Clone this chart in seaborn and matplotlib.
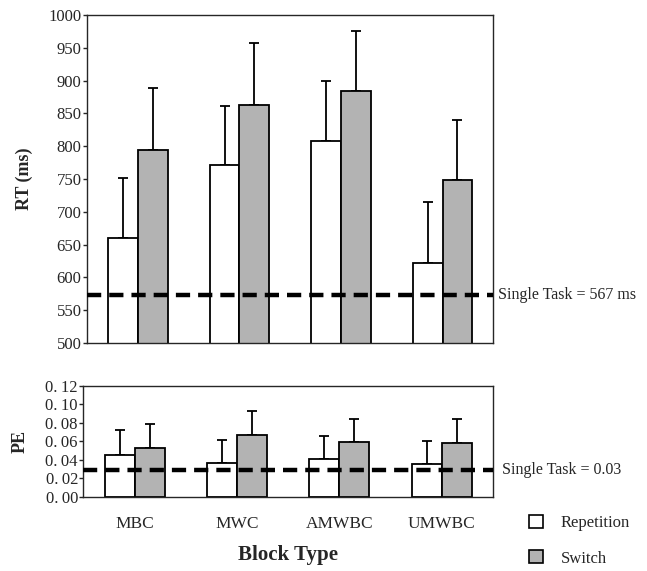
import numpy as np
import pandas as pd
import matplotlib
matplotlib.use("Agg")
import matplotlib.pyplot as plt
import seaborn as sns

blocks = ["MBC", "MWC", "AMWBC", "UMWBC"]
conditions = ["Repetition", "Switch"]

rt_rep = [660, 771, 808, 622]
rt_sw = [794, 863, 884, 748]
rt_rep_err = [92, 91, 92, 93]
rt_sw_err = [94, 94, 91, 92]
rt_single = 573

pe_rep = [0.045, 0.0365, 0.041, 0.035]
pe_sw = [0.053, 0.0666, 0.0597, 0.0582]
pe_rep_err = [0.027, 0.025, 0.025, 0.025]
pe_sw_err = [0.0255, 0.0264, 0.025, 0.0264]
pe_single = 0.029

rt_ticks = list(range(500, 1001, 50))
pe_ticks = [0.00, 0.02, 0.04, 0.06, 0.08, 0.10, 0.12]

sns.set_style("ticks")
plt.rcParams["font.family"] = ["Liberation Serif", "DejaVu Serif"]

palette = {"Repetition": "white", "Switch": "#b3b3b3"}


def make_df(rep, sw):
    return pd.DataFrame({
        "block": blocks * 2,
        "cond": ["Repetition"] * 4 + ["Switch"] * 4,
        "value": list(rep) + list(sw),
    })


def draw_panel(ax, df, errs, single, ylim, ticks, labels):
    sns.barplot(data=df, x="block", y="value", hue="cond", order=blocks,
                hue_order=conditions, palette=palette, width=0.585,
                errorbar=None, edgecolor="black", linewidth=1.3,
                legend=False, ax=ax, zorder=2)
    for cont, err in zip(ax.containers, errs):
        xs = [b.get_x() + b.get_width() / 2 for b in cont]
        ys = [b.get_height() for b in cont]
        ax.errorbar(xs, ys, yerr=[np.zeros(len(err)), err], fmt="none",
                    ecolor="black", elinewidth=1.3, capsize=3.5,
                    capthick=1.3, zorder=1)
    ax.axhline(single, color="black", linewidth=3.2, dashes=(3.2, 1.8),
               zorder=5)
    ax.set_xlim(-0.5, 3.5)
    ax.set_ylim(*ylim)
    ax.set_yticks(ticks)
    ax.set_yticklabels(labels, fontsize=12)
    ax.tick_params(axis="y", length=3, width=1, pad=1)
    for s in ax.spines.values():
        s.set_linewidth(1.0)
        s.set_visible(True)
    ax.set_xlabel("")


fig = plt.figure(figsize=(6.47, 5.71), dpi=100)
ax1 = fig.add_axes([0.1345, 0.3993, 0.628, 0.5744])
ax2 = fig.add_axes([0.129, 0.130, 0.633, 0.194])

draw_panel(ax1, make_df(rt_rep, rt_sw), [rt_rep_err, rt_sw_err],
           rt_single, (500, 1000), rt_ticks, [str(t) for t in rt_ticks])
ax1.set_xticks([])
ax1.set_ylabel("RT (ms)", fontsize=13, fontweight="bold", labelpad=11)
ax1.text(1.012, rt_single, "Single Task = 567 ms", transform=ax1.get_yaxis_transform(),
         va="center", ha="left", fontsize=11.5)

pe_labels = ["{:.2f}".format(t).replace(".", ".\u2009") for t in pe_ticks]
draw_panel(ax2, make_df(pe_rep, pe_sw), [pe_rep_err, pe_sw_err],
           pe_single, (0, 0.12), pe_ticks, pe_labels)
ax2.tick_params(axis="x", length=0, pad=14, labelsize=12.5)
ax2.set_ylabel("PE", fontsize=13, fontweight="bold", labelpad=12)
ax2.set_xlabel("Block Type", fontsize=15, fontweight="bold", labelpad=9)
ax2.text(1.022, pe_single, "Single Task = 0.03", transform=ax2.get_yaxis_transform(),
         va="center", ha="left", fontsize=11.5)

handles = [plt.Rectangle((0, 0), 1, 1, facecolor=palette[c], edgecolor="black",
                         linewidth=1.2) for c in conditions]
fig.legend(handles, conditions, loc="upper left", bbox_to_anchor=(0.818, 0.098),
           frameon=False, fontsize=12, handlelength=0.8, handleheight=0.8,
           labelspacing=1.15, handletextpad=1.1, borderaxespad=0, borderpad=0)

fig.savefig("out.png", dpi=100)
